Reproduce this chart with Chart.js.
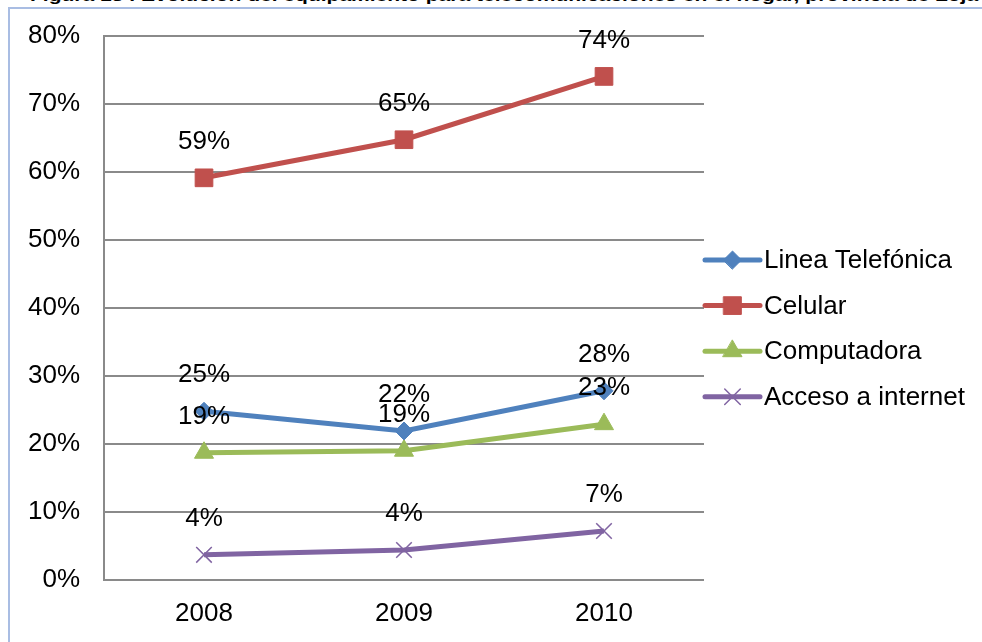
<!DOCTYPE html>
<html>
<head>
<meta charset="utf-8">
<script src="https://cdn.jsdelivr.net/npm/chart.js@4.4.0/dist/chart.umd.min.js"></script>
<style>
  html, body { margin: 0; padding: 0; background: #fff; }
  #wrap { position: relative; width: 982px; height: 642px; overflow: hidden; }
  #frame { position: absolute; left: 8px; top: 7px; right: -10px; bottom: -10px;
           border-left: 2px solid #a9bde3; border-top: 2px solid #a9bde3; }
  #title { position: absolute; left: 30px; top: -14px; white-space: nowrap;
           font: bold 17px "Liberation Sans", Arial, sans-serif; color: #000;
           transform-origin: 0 0; }
  canvas { position: absolute; left: 0; top: -4px; }
</style>
</head>
<body>
<div id="wrap">
  <div id="title">Figura 13 . Evolución del equipamiento para telecomunicaciones en el hogar, provincia de Loja</div>
  <div id="frame"></div>
  <canvas id="myChart" width="982" height="646"></canvas>
</div>
<script>
// data
const years = ['2008', '2009', '2010'];
const lineaTelefonica = [24.8, 21.9, 27.8];
const celular = [59.1, 64.7, 74.0];
const computadora = [18.7, 19.0, 22.9];
const accesoInternet = [3.7, 4.4, 7.2];
const seriesNames = ['Linea Telefónica', 'Celular', 'Computadora', 'Acceso a internet'];
const yTicks = [0, 10, 20, 30, 40, 50, 60, 70, 80];

// squeeze title to the width it has in the picture
const t = document.getElementById('title');
t.style.transform = 'scaleX(' + (948 / t.offsetWidth) + ')';

const FONT = '"Liberation Sans", Arial, sans-serif';
const FSIZE = 26;
const colors = ['#4f81bd', '#c0504d', '#9bbb59', '#8064a2'];

const mkSet = (i, data, style, radius, bw) => ({
    label: seriesNames[i],
    data: data,
    borderColor: colors[i],
    backgroundColor: colors[i],
    borderWidth: 5,
    pointStyle: style,
    pointRadius: radius,
    pointBorderWidth: bw,
    pointBorderColor: colors[i],
    pointBackgroundColor: colors[i],
    tension: 0
});

const valueLabels = {
    id: 'valueLabels',
    afterDatasetsDraw(chart) {
        const ctx = chart.ctx;
        ctx.save();
        ctx.font = FSIZE + 'px ' + FONT;
        ctx.fillStyle = '#000';
        ctx.textAlign = 'center';
        ctx.textBaseline = 'middle';
        chart.data.datasets.forEach((ds, i) => {
            chart.getDatasetMeta(i).data.forEach((pt, j) => {
                ctx.fillText(Math.round(ds.data[j]) + '%', pt.x, pt.y - 36);
            });
        });
        ctx.restore();
    }
};

const sideLegend = {
    id: 'sideLegend',
    afterDraw(chart) {
        const ctx = chart.ctx;
        const x0 = 705, x1 = 760, top = 264, step = 45.6;
        ctx.save();
        chart.data.datasets.forEach((ds, i) => {
            const y = top + i * step;
            ctx.strokeStyle = ds.borderColor;
            ctx.lineWidth = 5;
            ctx.lineCap = 'round';
            ctx.beginPath();
            ctx.moveTo(x0, y);
            ctx.lineTo(x1, y);
            ctx.stroke();
            ctx.fillStyle = ds.backgroundColor;
            ctx.strokeStyle = ds.borderColor;
            ctx.lineWidth = ds.pointBorderWidth;
            Chart.helpers.drawPoint(ctx, {
                pointStyle: ds.pointStyle, radius: ds.pointRadius,
                borderWidth: ds.pointBorderWidth, rotation: 0
            }, (x0 + x1) / 2, y);
            ctx.fillStyle = '#000';
            ctx.font = FSIZE + 'px ' + FONT;
            ctx.textAlign = 'left';
            ctx.textBaseline = 'middle';
            ctx.fillText(ds.label, 764, y + 1);
        });
        ctx.restore();
    }
};

new Chart(document.getElementById('myChart').getContext('2d'), {
    type: 'line',
    data: {
        labels: years,
        datasets: [
            mkSet(0, lineaTelefonica, 'rectRot', 9, 1),
            mkSet(1, celular, 'rect', 12.5, 1),
            mkSet(2, computadora, 'triangle', 11, 1),
            mkSet(3, accesoInternet, 'crossRot', 11, 1.5)
        ]
    },
    options: {
        responsive: false,
        animation: false,
        layout: { padding: { top: 36, right: 278, left: 0, bottom: 0 } },
        plugins: { legend: { display: false }, tooltip: { enabled: false } },
        scales: {
            x: {
                offset: true,
                grid: { display: false },
                border: { display: false },
                ticks: { color: '#000', font: { family: FONT, size: FSIZE }, padding: 10 },
                afterFit(scale) { scale.height = 62; }
            },
            y: {
                min: 0, max: 80,
                afterBuildTicks(scale) { scale.ticks = yTicks.map(v => ({ value: v })); },
                grid: { color: '#8a8a8a', lineWidth: 2, drawTicks: false },
                border: { display: true, color: '#8a8a8a', width: 2 },
                ticks: { color: '#000', font: { family: FONT, size: FSIZE }, padding: 24,
                         callback: v => v + '%' },
                afterFit(scale) { scale.width = 104; }
            }
        }
    },
    plugins: [valueLabels, sideLegend]
});
</script>
</body>
</html>
